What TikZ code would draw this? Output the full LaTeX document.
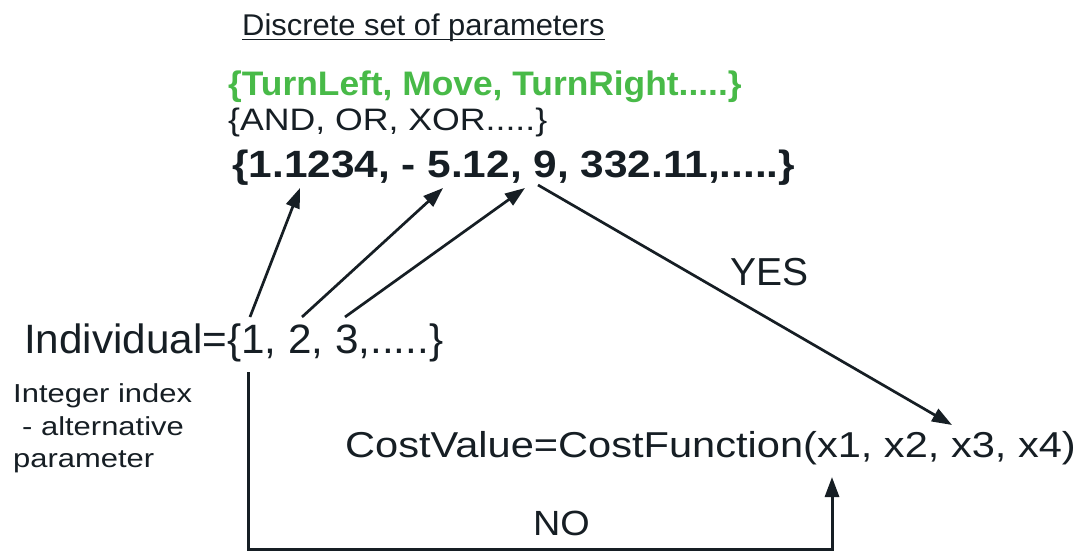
\documentclass[tikz,border=0pt]{standalone}
\usepackage{fontspec}
\setmainfont{Liberation Sans}
\usepackage{graphicx}
\usetikzlibrary{arrows.meta}
\definecolor{ink}{RGB}{22,30,36}
\definecolor{leaf}{RGB}{72,186,72}
\newcommand{\tx}[3]{\scalebox{#2}[1]{\fontsize{#1}{#1}\selectfont #3}}
\begin{document}
\begin{tikzpicture}[x=1pt,y=-1pt,
  lbl/.style={inner sep=0pt, anchor=base west, text=ink},
  arr/.style={draw=ink, line width=2.7pt, line join=miter, -{Triangle[length=20pt,width=14pt]}}]
\fill[white] (0,0) rectangle (1082,554);
\useasboundingbox (0,0) rectangle (1082,554);

% texts
\node[lbl] (title) at (242,35) {\tx{30}{1.03}{Discrete set of parameters}};
\draw[ink, line width=1.8pt] ([yshift=-4.5pt]title.base west) -- ([yshift=-4.5pt]title.base east);
\node[lbl, text=leaf] (green) at (228,95) {\tx{34}{1.04}{\bfseries \{TurnLeft, Move, TurnRight.....\}}};
\node[lbl] (logic) at (228,130) {\tx{31}{1.15}{\{AND, OR, XOR.....\}}};
\node[lbl] (nums) at (232,177) {\tx{38}{1.115}{\bfseries \{1.1234, - 5.12, 9, 332.11,.....\}}};
\node[lbl] (ind) at (24,353) {\tx{41}{1.03}{Individual=\{1, 2, 3,.....\}}};
\node[lbl] (idx1) at (13,402) {\tx{26}{1.19}{Integer index}};
\node[lbl] (idx2) at (22,435) {\tx{26}{1.19}{- alternative}};
\node[lbl] (idx3) at (13,467) {\tx{26}{1.19}{parameter}};
\node[lbl] (cost) at (345,457) {\tx{36}{1.155}{CostValue=CostFunction(x1, x2, x3, x4)}};
\node[lbl] (yes) at (730,285) {\tx{39}{1.0}{YES}};
\node[lbl] (no) at (533,535) {\tx{35}{1.08}{NO}};

% connector end points
\coordinate (s1) at (250,317);
\coordinate (s2) at (302,317);
\coordinate (s3) at (345,317);
\coordinate (t1) at (300,188);
\coordinate (t2) at (443,188);
\coordinate (t3) at (525,188);
\coordinate (ys) at (538,185);
\coordinate (yt) at (952,425);
\coordinate (ns) at (248,372);
\coordinate (nc) at (832,549);
\coordinate (nt) at (832,477);

% connectors
\draw[arr] (s1) -- (t1);
\draw[arr] (s2) -- (t2);
\draw[arr] (s3) -- (t3);
\draw[arr] (ys) -- (yt);
\draw[arr, line width=3pt] (ns) |- (nc) -- (nt);
\end{tikzpicture}
\end{document}
